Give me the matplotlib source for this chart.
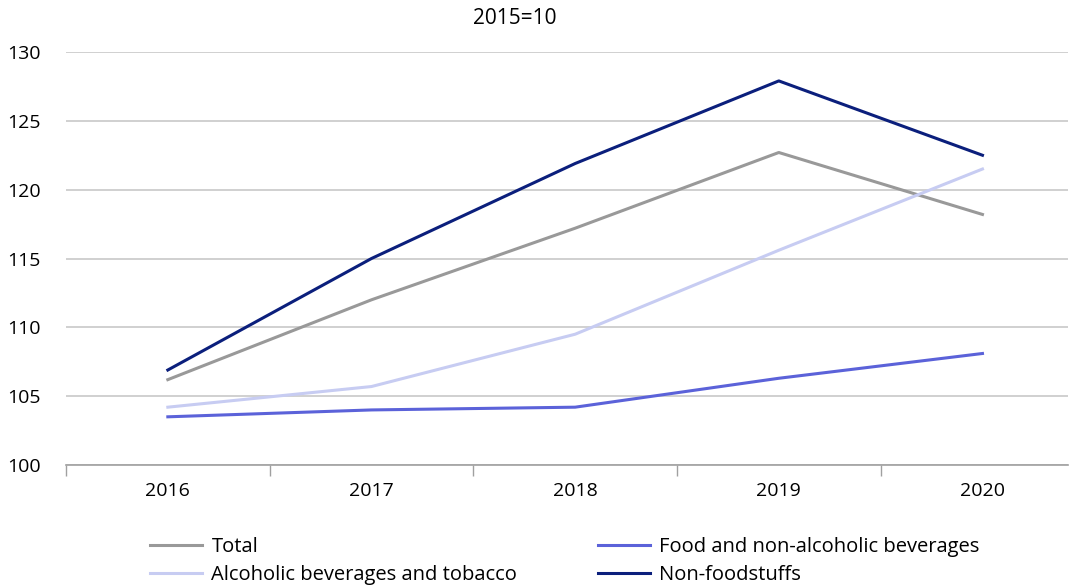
import matplotlib
matplotlib.use("Agg")
import matplotlib.pyplot as plt
from matplotlib.ticker import FixedLocator, NullFormatter

plt.rcParams['font.family'] = ['Open Sans', 'DejaVu Sans']

years = ["2016", "2017", "2018", "2019", "2020"]
total = [106.2, 112.0, 117.2, 122.7, 118.2]
food = [103.5, 104.0, 104.2, 106.3, 108.1]
alcohol = [104.2, 105.7, 109.5, 115.6, 121.5]
nonfood = [106.9, 115.0, 121.9, 127.9, 122.5]
yticks = [100, 105, 110, 115, 120, 125, 130]

fig = plt.figure(figsize=(10.82, 5.87), dpi=100)
ax = fig.add_axes([66/1082, 1-465/587, (1068-66)/1082, (465-52)/587])

x = list(range(len(years)))
l_total, = ax.plot(x, total, color="#999999", lw=2.2, label="Total")
l_food, = ax.plot(x, food, color="#5b62d9", lw=2.2, label="Food and non-alcoholic beverages")
l_alc, = ax.plot(x, alcohol, color="#c7ccf2", lw=2.2, label="Alcoholic beverages and tobacco")
l_non, = ax.plot(x, nonfood, color="#0b1f7c", lw=2.2, label="Non-foodstuffs")

ax.set_ylim(100, 130)
ax.set_xlim(-0.5, 4.42)
ax.set_yticks(yticks)
ax.set_yticklabels([str(v) for v in yticks], fontsize=14)
ax.tick_params(axis='y', length=0, pad=18)
for lab in ax.get_yticklabels():
    lab.set_horizontalalignment('right')
ax.yaxis.grid(True, color="#c8c8c8", lw=1.2)
ax.set_axisbelow(True)

ax.set_xticks(x)
ax.set_xticklabels(years, fontsize=14)
ax.tick_params(axis='x', which='major', length=0, pad=12)
ax.xaxis.set_minor_locator(FixedLocator([-0.5, 0.5, 1.5, 2.5, 3.5]))
ax.xaxis.set_minor_formatter(NullFormatter())
ax.tick_params(axis='x', which='minor', length=8, color="#a0a0a0", width=1)

for s in ['top', 'right', 'left']:
    ax.spines[s].set_visible(False)
ax.spines['bottom'].set_color("#a0a0a0")
ax.spines['bottom'].set_linewidth(1.2)

fig.text(515/1082, 1-18/587, "2015=10", ha='center', va='center', fontsize=15)

fig.legend(handles=[l_total, l_alc, l_food, l_non], ncol=2, frameon=False,
           loc='upper left', bbox_to_anchor=(142/1082, 1-529/587),
           fontsize=14.5, handlelength=2.6, handletextpad=0.45,
           columnspacing=4.0, labelspacing=0.4, borderaxespad=0)

fig.savefig("out.png", dpi=100)
